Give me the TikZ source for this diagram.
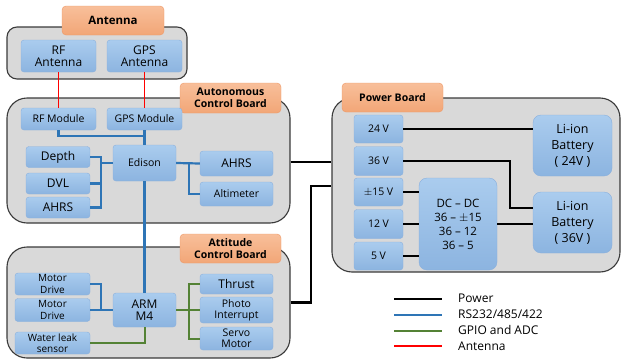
\documentclass[tikz,border=0pt]{standalone}
\usepackage{fontspec}
\setmainfont{Open Sans}
\usetikzlibrary{calc}
\definecolor{grpfill}{HTML}{D9D9D9}
\definecolor{grpdraw}{HTML}{3A3A3A}
\definecolor{blktop}{HTML}{AACCEE}
\definecolor{blkbot}{HTML}{8CB4E0}
\definecolor{blkdraw}{HTML}{8AB0DD}
\definecolor{ttltop}{HTML}{F8BF9A}
\definecolor{ttlbot}{HTML}{F2A677}
\definecolor{ttldraw}{HTML}{EE9866}
\definecolor{cblue}{HTML}{2E75B6}
\definecolor{cgreen}{HTML}{548235}
\definecolor{cred}{HTML}{FF0000}
\tikzset{
  grp/.style={draw=grpdraw, fill=grpfill, line width=1.1pt, rounded corners=#1, inner sep=0pt},
  grp/.default=10pt,
  ttl/.style={draw=ttldraw, top color=ttltop, bottom color=ttlbot, rounded corners=4pt, inner sep=0pt,
    font=\fontsize{10.5}{12}\selectfont\bfseries, align=center},
  blk/.style={draw=blkdraw, top color=blktop, bottom color=blkbot, rounded corners=3pt, inner sep=0pt, align=center},
  fa/.style={font=\fontsize{12}{14}\selectfont},
  fb/.style={font=\fontsize{10.5}{12}\selectfont},
  fc/.style={font=\fontsize{10}{11.5}\selectfont},
  pwr/.style={line width=2.2pt, black},
  rs/.style={line width=2.2pt, cblue},
  gp/.style={line width=2pt, cgreen},
  ant/.style={line width=1.2pt, cred},
}
\begin{document}
\begin{tikzpicture}[x=1pt,y=-1pt]
\useasboundingbox (0,0) rectangle (622,362);
% group boxes
\node[grp=10pt, minimum width=180pt, minimum height=52pt] (antgrp) at (97,53) {};
\node[grp=20pt, minimum width=283pt, minimum height=125pt] (acbgrp) at (148.5,160.5) {};
\node[grp=20pt, minimum width=283pt, minimum height=111pt] (atcgrp) at (148.5,302.5) {};
\node[grp=20pt, minimum width=288pt, minimum height=174pt] (pwrgrp) at (476,185) {};
% titles
\node[ttl, font=\fontsize{11.5}{13}\selectfont\bfseries, minimum width=102pt, minimum height=29pt] (anttitle) at (113,20.5) {Antenna};
\node[ttl, minimum width=101pt, minimum height=30pt] (acbtitle) at (230.5,98) {Autonomous\\Control Board};
\node[ttl, minimum width=101pt, minimum height=29pt] (atctitle) at (230.5,248.5) {Attitude\\Control Board};
\node[ttl, minimum width=101pt, minimum height=29pt] (pwrtitle) at (392.5,97.5) {Power Board};
% antenna
\node[blk, fa, minimum width=75pt, minimum height=32pt] (rfant) at (58.5,56) {RF\\[-2pt]Antenna};
\node[blk, fa, minimum width=75pt, minimum height=32pt] (gpsant) at (144.5,56) {GPS\\[-2pt]Antenna};
% autonomous
\node[blk, fb, minimum width=75pt, minimum height=22pt] (rfmod) at (58.5,119) {RF Module};
\node[blk, fb, minimum width=75pt, minimum height=22pt] (gpsmod) at (144.5,119) {GPS Module};
\node[blk, fb, minimum width=63pt, minimum height=36pt] (edison) at (144.5,163) {Edison};
\node[blk, fa, minimum width=64pt, minimum height=21pt] (depth) at (58,157) {Depth};
\node[blk, fa, minimum width=64pt, minimum height=21pt] (dvl) at (58,183.5) {DVL};
\node[blk, fa, minimum width=64pt, minimum height=21pt] (ahrsl) at (58,207.5) {AHRS};
\node[blk, fa, minimum width=73pt, minimum height=25pt] (ahrsr) at (236.5,163.5) {AHRS};
\node[blk, fb, minimum width=73pt, minimum height=24pt] (alt) at (236.5,194) {Altimeter};
% attitude
\node[blk, fc, minimum width=75pt, minimum height=22pt] (md1) at (52.5,284) {Motor\\Drive};
\node[blk, fc, minimum width=75pt, minimum height=23pt] (md2) at (52.5,310) {Motor\\Drive};
\node[blk, fc, minimum width=75pt, minimum height=22pt] (wls) at (52.5,343) {Water leak\\sensor};
\node[blk, fa, minimum width=63pt, minimum height=34pt] (arm) at (144.5,310) {ARM\\[-2pt]M4};
\node[blk, fa, minimum width=73pt, minimum height=20pt] (thrust) at (236.5,284) {Thrust};
\node[blk, fb, minimum width=73pt, minimum height=26pt] (photo) at (236.5,310) {Photo\\[-1pt]Interrupt};
\node[blk, fb, minimum width=73pt, minimum height=23pt] (servo) at (236.5,338.5) {Servo\\[-1pt]Motor};
% power
\node[blk, fb, minimum width=49pt, minimum height=28pt] (v24) at (378.5,129) {24 V};
\node[blk, fb, minimum width=49pt, minimum height=29pt] (v36) at (378.5,161) {36 V};
\node[blk, fb, minimum width=49pt, minimum height=28pt] (v15) at (378.5,192) {$\pm$15 V};
\node[blk, fb, minimum width=49pt, minimum height=29pt] (v12) at (378.5,224) {12 V};
\node[blk, fb, minimum width=49pt, minimum height=28pt] (v5) at (378.5,256) {5 V};
\node[blk, font=\fontsize{11.5}{14}\selectfont, rounded corners=8pt, minimum width=78pt, minimum height=92pt] (dcdc) at (458,224) {DC -- DC\\36 -- $\pm$15\\36 -- 12\\36 -- 5};
\node[blk, font=\fontsize{12.5}{16}\selectfont, rounded corners=8pt, minimum width=79pt, minimum height=61pt] (bat24) at (572.5,145.5) {Li-ion\\Battery\\( 24V )};
\node[blk, font=\fontsize{12.5}{16}\selectfont, rounded corners=8pt, minimum width=79pt, minimum height=61pt] (bat36) at (572.5,222.5) {Li-ion\\Battery\\( 36V )};
% junction coordinates
\coordinate (j1) at (144.5,136);
\coordinate (lbx) at (101,0);
\coordinate (rbx) at (189,0);
\coordinate (pj) at (311,186);
\coordinate (pb) at (510,208);
% antenna lines
\draw[ant] (rfant.south) -- (rfmod.north);
\draw[ant] (gpsant.south) -- (gpsmod.north);
% RS lines
\draw[rs] (rfmod.south) |- (j1);
\draw[rs] (gpsmod.south) -- (edison.north);
\draw[rs] (depth.east) -| (lbx |- ahrsl.east) -- (ahrsl.east);
\draw[rs] (dvl.east) -- (dvl.east -| lbx);
\draw[rs] (edison.west) -- (edison.west -| lbx);
\draw[rs] (edison.east) -- (ahrsr.west);
\draw[rs] (rbx |- edison.east) |- (alt.west);
\draw[rs] (edison.south) -- (arm.north);
\draw[rs] (md1.east) -| (lbx |- md2.east);
\draw[rs] (md2.east) -- (arm.west);
% GPIO
\draw[gp] (wls.east) -| (arm.south);
\draw[gp] (arm.east) -- (photo.west);
\draw[gp] (thrust.west) -| (rbx |- servo.west) -- (servo.west);
% power
\draw[pwr] (acbgrp.east |- 0,162) -- (pwrgrp.west |- 0,162);
\draw[pwr] (atcgrp.east) -| (pj) -- (pj -| pwrgrp.west);
\draw[pwr] (v24.east) -- (v24.east -| bat24.west);
\draw[pwr] (v36.east) -| (pb) -- (pb -| bat36.west);
\draw[pwr] (dcdc.east) -- (dcdc.east -| bat36.west);
\draw[pwr] (v15.east) -- (v15.east -| dcdc.west);
\draw[pwr] (v12.east) -- (v12.east -| dcdc.west);
\draw[pwr] (v5.east) -- (v5.east -| dcdc.west);
% legend
\coordinate (l1a) at (394,299); \coordinate (l1b) at (442,299);
\coordinate (l2a) at (394,315); \coordinate (l2b) at (442,315);
\coordinate (l3a) at (394,331); \coordinate (l3b) at (442,331);
\coordinate (l4a) at (394,346); \coordinate (l4b) at (442,346);
\draw[pwr] (l1a) -- (l1b);
\draw[rs] (l2a) -- (l2b);
\draw[gp, line width=1.6pt] (l3a) -- (l3b);
\draw[ant] (l4a) -- (l4b);
\begin{scope}[every node/.style={anchor=west, inner sep=0pt, font=\fontsize{12}{13}\selectfont}]
\node (lg1) at (458,298) {Power};
\node (lg2) at (458,314) {RS232/485/422};
\node (lg3) at (458,330) {GPIO and ADC};
\node (lg4) at (458,346) {Antenna};
\end{scope}
\end{tikzpicture}
\end{document}
